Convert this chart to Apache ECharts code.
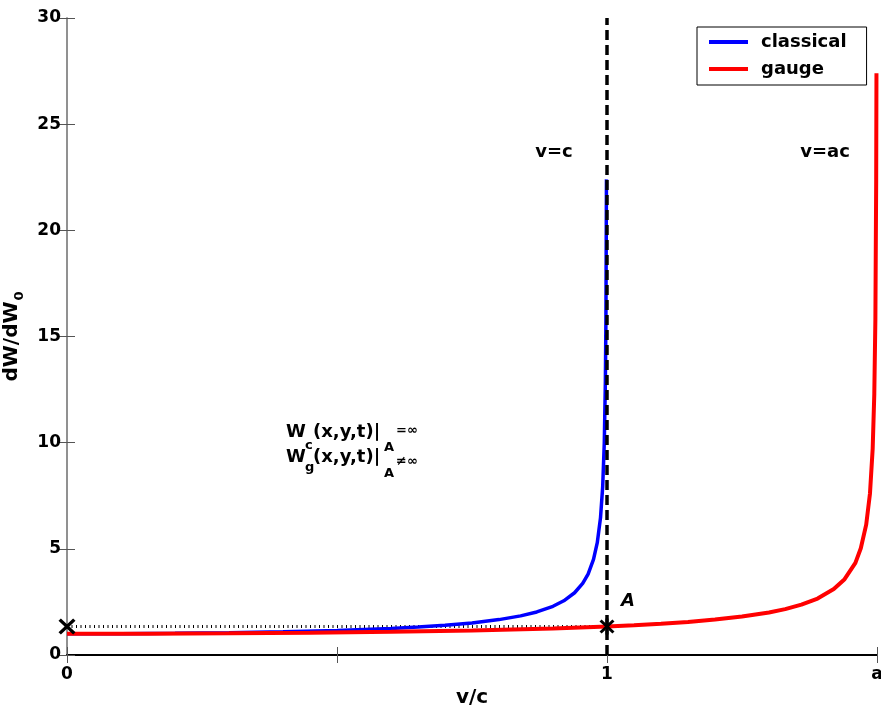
<!DOCTYPE html>
<html>
<head>
<meta charset="utf-8">
<script src="https://cdn.jsdelivr.net/npm/echarts@6/dist/echarts.min.js"></script>
<style>
  html, body { margin: 0; padding: 0; background: #fff; }
  #chart { width: 881px; height: 713px; }
</style>
</head>
<body>
<div id="chart"></div>
<script>
// values
const classicalV = [0, 0.1, 0.2, 0.3, 0.4, 0.5, 0.6, 0.65, 0.7, 0.75, 0.8, 0.84, 0.87, 0.9, 0.92, 0.94, 0.955, 0.965, 0.975, 0.982, 0.988, 0.992, 0.995, 0.997, 0.998, 0.999];
const classicalW = [1, 1.005, 1.021, 1.048, 1.091, 1.155, 1.25, 1.316, 1.4, 1.512, 1.667, 1.843, 2.028, 2.294, 2.552, 2.931, 3.371, 3.81, 4.5, 5.29, 6.47, 7.92, 10.0, 12.9, 15.8, 22.4];
const gaugeV = [0, 0.15, 0.3, 0.45, 0.6, 0.75, 0.9, 1.0, 1.05, 1.1, 1.15, 1.2, 1.25, 1.3, 1.33, 1.36, 1.39, 1.42, 1.44, 1.46, 1.47, 1.48, 1.487, 1.492, 1.495, 1.497, 1.4985, 1.499];
const gaugeW = [1, 1.005, 1.021, 1.048, 1.091, 1.155, 1.25, 1.342, 1.4, 1.471, 1.557, 1.667, 1.809, 2.005, 2.159, 2.371, 2.66, 3.105, 3.571, 4.34, 5.03, 6.14, 7.61, 9.72, 12.3, 15.8, 22.4, 27.4];
const vcLine = [[1, 0], [1, 30]];
const levelLine = [[0, 1.34], [1, 1.34]];
const startMark = [[0, 1.34]];
const pointA = [[1, 1.34]];
const xTickValues = [0, 0.5, 1, 1.5];
const xTickLabels = ['0', '', '1', 'a'];

const FONT = 'DejaVu Sans';
const pair = (xs, ys) => xs.map((x, i) => [x, ys[i]]);

const chart = echarts.init(document.getElementById('chart'));

function txt(x, y, text, size, extra) {
  return {
    type: 'text', x: x, y: y, z: 100,
    style: Object.assign({
      text: text, fontFamily: FONT, fontSize: size, fontWeight: 'bold',
      fill: '#000', verticalAlign: 'middle', align: 'left'
    }, extra || {})
  };
}

// thick "x" cross; the bar is a plain rect stretched to the symbol size
const xMark = 'path://M0,1.4L1.4,0L5,3.6L8.6,0L10,1.4L6.4,5L10,8.6L8.6,10L5,6.4L1.4,10L0,8.6L3.6,5Z';

const option = {
  backgroundColor: '#fff',
  animation: false,
  grid: { left: 67, right: 4, top: 18, bottom: 58, containLabel: false, outerBoundsMode: 'none' },
  legend: {
    data: ['classical', 'gauge'],
    orient: 'vertical',
    left: 697, top: 27,
    padding: [6, 20, 7, 12],
    itemGap: 9,
    itemWidth: 39, itemHeight: 4,
    icon: 'rect',
    borderColor: '#000', borderWidth: 1,
    backgroundColor: '#fff',
    textStyle: { fontFamily: FONT, fontSize: 18, fontWeight: 'bold', color: '#000', lineHeight: 18, padding: [0, 0, 0, 8] }
  },
  xAxis: [{
    type: 'value', min: 0, max: 1.5, interval: 0.5,
    name: 'v/c', nameLocation: 'middle', nameGap: 33,
    nameTextStyle: { fontFamily: FONT, fontSize: 20, fontWeight: 'bold', color: '#000' },
    axisLine: { lineStyle: { color: '#8a8a8a', width: 1.5 } },
    axisTick: { inside: true, length: 8, lineStyle: { color: '#555' } },
    axisLabel: {
      margin: 11, fontFamily: FONT, fontSize: 17, fontWeight: 'bold', color: '#000',
      formatter: v => { const i = xTickValues.indexOf(v); return i < 0 ? '' : xTickLabels[i]; }
    },
    splitLine: { show: false }
  }, {
    type: 'value', min: 0, max: 1.5, interval: 0.5, position: 'top',
    axisLine: { lineStyle: { color: '#000', width: 2 } },
    axisTick: { inside: true, length: 8, lineStyle: { color: '#555' } },
    axisLabel: { show: false }, splitLine: { show: false }
  }],
  yAxis: [{
    type: 'value', min: 0, max: 30, interval: 5,
    name: '{m|dW/dW}{s|0}', nameLocation: 'middle', nameGap: 25,
    nameTextStyle: {
      fontFamily: FONT, fontSize: 20, fontWeight: 'bold', color: '#000',
      rich: {
        m: { fontFamily: FONT, fontSize: 20, fontWeight: 'bold', color: '#000' },
        s: { fontFamily: FONT, fontSize: 13, fontWeight: 'bold', color: '#000', padding: [16, 0, 0, 1] }
      }
    },
    axisLine: { lineStyle: { color: '#8a8a8a', width: 1.5 } },
    axisTick: { inside: true, length: 8, lineStyle: { color: '#555' } },
    axisLabel: { margin: 6, fontFamily: FONT, fontSize: 17, fontWeight: 'bold', color: '#000' },
    splitLine: { show: false }
  }, {
    type: 'value', min: 0, max: 30, interval: 5, position: 'right',
    axisLine: { lineStyle: { color: '#8a8a8a', width: 1.5 } },
    axisTick: { inside: true, length: 8, lineStyle: { color: '#555' } },
    axisLabel: { show: false }, splitLine: { show: false }
  }],
  series: [{
    name: 'classical', type: 'line', data: pair(classicalV, classicalW),
    showSymbol: false, symbol: 'none', color: '#0000ff',
    lineStyle: { color: '#0000ff', width: 3.5 }, z: 2
  }, {
    name: 'gauge', type: 'line', data: pair(gaugeV, gaugeW),
    showSymbol: false, symbol: 'none', color: '#ff0000',
    lineStyle: { color: '#ff0000', width: 4 }, z: 3
  }, {
    type: 'line', data: vcLine, symbol: 'none',
    lineStyle: { color: '#000', width: 3.5, type: [10, 5] }, z: 4
  }, {
    type: 'line', data: levelLine, symbol: 'none',
    lineStyle: { color: '#000', width: 3, type: [1, 3.5] }, z: 1
  }, {
    type: 'scatter', data: startMark, symbol: xMark, symbolSize: [17, 16],
    itemStyle: { color: '#000', opacity: 1 }, clip: false, z: 5
  }, {
    type: 'scatter', data: pointA, symbol: xMark, symbolSize: [15, 14],
    itemStyle: { color: '#000', opacity: 1 }, z: 5
  }, {
    type: 'scatter', data: pointA, symbol: 'rect', symbolSize: [3, 16],
    itemStyle: { color: '#000', opacity: 1 }, z: 5
  }],
  graphic: [
    txt(554, 152, 'v=c', 18, { align: 'center' }),
    txt(825, 152, 'v=ac', 18, { align: 'center' }),
    txt(628, 601, 'A', 18, { align: 'center', fontStyle: 'italic' }),
    // W_c(x,y,t)|_A = inf
    txt(286, 432, 'W', 18),
    txt(305, 446, 'c', 13),
    txt(313, 432, '(x,y,t)|', 18),
    txt(384, 448, 'A', 13),
    txt(396, 431, '=∞', 13),
    // W_g(x,y,t)|_A != inf
    txt(286, 457, 'W', 18),
    txt(305, 468, 'g', 13),
    txt(313, 457, '(x,y,t)|', 18),
    txt(384, 474, 'A', 13),
    txt(396, 462, '≠∞', 13)
  ]
};

chart.setOption(option);
</script>
</body>
</html>
